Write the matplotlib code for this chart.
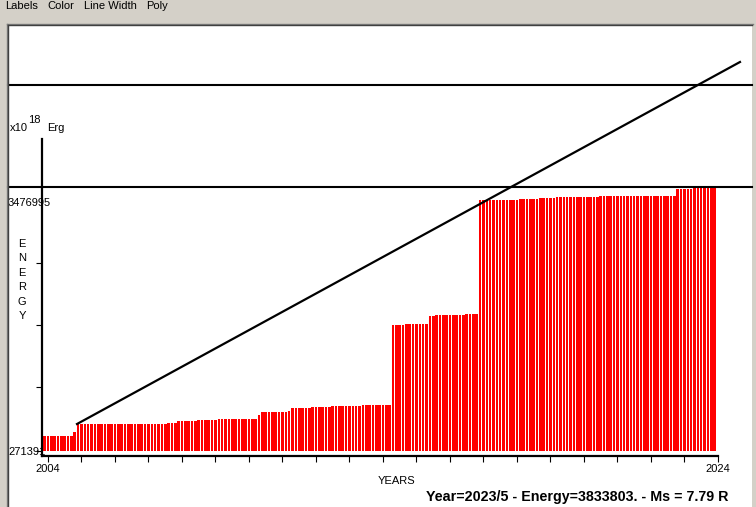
import matplotlib
matplotlib.use('Agg')
import matplotlib.pyplot as plt
import numpy as np
from matplotlib.patches import Rectangle
from matplotlib.lines import Line2D

plt.rcParams['font.family'] = ['Liberation Sans', 'DejaVu Sans']

# Data (energy in units of 10^18 erg)
BASELINE = 271391
MAX_LEVEL = 3476995
UPPER_LEVEL = 4715000
STEP_LEVELS = [453500, 502100, 599200, 611400, 635700, 647800, 659900, 708500,
               744900, 757100, 793500, 805600, 817800, 829900, 1801300, 1813400,
               1910600, 1922700, 1934800, 3319000, 3331200, 3343300, 3355500,
               3367600, 3452600, 3464700]
STEP_COUNTS = [9, 1, 27, 3, 6, 6, 12, 1, 8, 1, 6, 6, 9, 9, 4, 7, 2, 9, 4,
               12, 6, 5, 13, 23, 5, 7]
FIRST_BAR_YEAR = 2003.87
BAR_STEP = 0.1
TREND_YEARS = [2004.875, 2024.666]
TREND_ENERGY = [599200, 4994600]
YEAR_TICKS = list(range(2004, 2025))
ENERGY_TICKS = [271391, 1048000, 1801000, 2554000]
STATUS = 'Year=2023/5 - Energy=3833803. - Ms = 7.79 R'

W, H = 756, 507


def fx(px):
    return px / W


def fy(py):
    return 1 - py / H


def plot_energy(fig):
    # window panel
    fig.add_artist(Rectangle((fx(8), 0), (752 - 8) / W, fy(25), transform=fig.transFigure,
                             facecolor='white', edgecolor='none', zorder=0))
    fig.add_artist(Line2D([fx(6.5), fx(6.5)], [0, fy(23.5)], color='#808080', lw=1, transform=fig.transFigure))
    fig.add_artist(Line2D([fx(6.5), fx(753)], [fy(23.5), fy(23.5)], color='#808080', lw=1, transform=fig.transFigure))
    fig.add_artist(Line2D([fx(7.5), fx(7.5)], [0, fy(24.5)], color='#404040', lw=1, transform=fig.transFigure))
    fig.add_artist(Line2D([fx(7.5), fx(752)], [fy(24.5), fy(24.5)], color='#404040', lw=1, transform=fig.transFigure))

    # menu bar
    for label, x in [('Labels', 5), ('Color', 47), ('Line Width', 84), ('Poly', 146)]:
        fig.text(fx(x), fy(6), label, fontsize=8, va='center')

    ax = fig.add_axes([fx(42), fy(456), (718 - 42) / W, (456 - 139) / H])
    ax.patch.set_visible(False)
    ax.set_xlim(2003.83, 2024.01)
    ax.set_ylim(210700, 4059700)

    energy = np.repeat(STEP_LEVELS, STEP_COUNTS)
    years = FIRST_BAR_YEAR + BAR_STEP * np.arange(len(energy))
    ax.bar(years, energy - BASELINE, bottom=BASELINE, width=0.077, align='edge',
           color='#ff0000', linewidth=0)

    ax.axhline(MAX_LEVEL, xmin=-0.0503, xmax=1.0503, color='black', lw=1.5, clip_on=False)
    ax.axhline(UPPER_LEVEL, xmin=-0.0503, xmax=1.0503, color='black', lw=1.5, clip_on=False)
    ax.plot(TREND_YEARS, TREND_ENERGY, color='black', lw=1.6, clip_on=False)

    for side in ['top', 'right']:
        ax.spines[side].set_visible(False)
    for side in ['left', 'bottom']:
        ax.spines[side].set_linewidth(1.6)
        ax.spines[side].set_color('black')

    ax.set_xticks(YEAR_TICKS)
    ax.set_xticklabels([str(y) if y in (YEAR_TICKS[0], YEAR_TICKS[-1]) else '' for y in YEAR_TICKS])
    ax.tick_params(axis='x', direction='out', length=4, width=0.8, pad=1.5, labelsize=8)
    ax.set_yticks(ENERGY_TICKS)
    ax.set_yticklabels([])
    ax.tick_params(axis='y', direction='out', length=4.3, width=0.8)

    ax.annotate(str(BASELINE), xy=(0, BASELINE), xycoords=('axes fraction', 'data'),
                xytext=(-34, -1), textcoords='offset pixels', ha='left', va='center', fontsize=8)
    ax.annotate(str(MAX_LEVEL), xy=(0, MAX_LEVEL), xycoords=('axes fraction', 'data'),
                xytext=(-34, -16), textcoords='offset pixels', ha='left', va='center', fontsize=8)

    fig.text(fx(10), fy(131), 'x10', fontsize=8, va='baseline')
    fig.text(fx(28), fy(123), '18', fontsize=8, va='baseline')
    fig.text(fx(47), fy(131), 'Erg', fontsize=8, va='baseline')
    fig.text(fx(22), fy(280), '\n'.join('ENERGY'), fontsize=8, ha='center', va='center',
             linespacing=1.55)
    fig.text(fx(378), fy(481), 'YEARS', fontsize=8, va='center')
    fig.text(fx(426), fy(496.5), STATUS, fontsize=10.3, fontweight='bold', va='center')
    return ax


if __name__ == "__main__":
    fig = plt.figure(figsize=(W / 100, H / 100), dpi=100, facecolor='#d4d0c8')
    plot_energy(fig)
    fig.savefig('out.png', dpi=100, facecolor=fig.get_facecolor())
